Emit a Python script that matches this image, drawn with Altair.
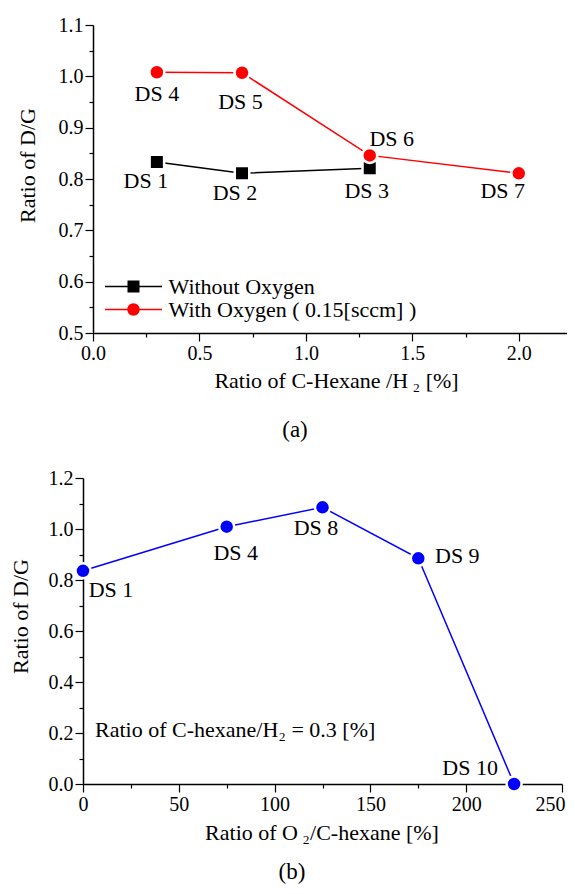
import altair as alt
import pandas as pd

# ---------------- data ----------------
# Panel (a)
series_names = ["Without Oxygen", "With Oxygen ( 0.15[sccm] )"]
series_colors = ["#000000", "#ff0000"]
a_x_without = [0.3, 0.7, 1.3]
a_y_without = [0.833, 0.811, 0.821]
a_lbl_without = ["DS 1", "DS 2", "DS 3"]
a_x_with = [0.3, 0.7, 1.3, 2.0]
a_y_with = [1.008, 1.007, 0.846, 0.811]
a_lbl_with = ["DS 4", "DS 5", "DS 6", "DS 7"]

# Panel (b)
b_x = [0, 75, 125, 175, 225]
b_y = [0.836, 1.009, 1.085, 0.885, 0.0]
b_lbl = ["DS 1", "DS 4", "DS 8", "DS 9", "DS 10"]

# tick values
a_xticks = [0, 0.25, 0.5, 0.75, 1.0, 1.25, 1.5, 1.75, 2.0, 2.25]
a_yticks = [0.5, 0.55, 0.6, 0.65, 0.7, 0.75, 0.8, 0.85, 0.9, 0.95, 1.0, 1.05, 1.1]
b_xticks = [0, 25, 50, 75, 100, 125, 150, 175, 200, 225, 250]
b_yticks = [0.0, 0.1, 0.2, 0.3, 0.4, 0.5, 0.6, 0.7, 0.8, 0.9, 1.0, 1.1, 1.2]

# texts
a_xtitle = "Ratio of C-Hexane /H\u2009\u2082 [%]"
b_xtitle = "Ratio of  O\u2009\u2082/C-hexane [%]"
y_title = "Ratio of  D/G"
b_note = "Ratio of C-hexane/H\u2082 = 0.3 [%]"

# label placement (pixel offsets of each data label from its point)
offsets_a = {"DS 1": (-11, 19), "DS 2": (-7, 20), "DS 3": (-3, 23), "DS 4": (0, 22),
             "DS 5": (-1.5, 29), "DS 6": (22, -16), "DS 7": (-16, 18)}
offsets_b = {"DS 1": (28, 19), "DS 4": (9, 26), "DS 8": (-6.5, 21), "DS 9": (39, -2),
             "DS 10": (-44, -16)}

FONT = "Liberation Serif"

# ---------------- layout (one canvas, two panels) ----------------
W, H = 484, 856                   # drawing group (page is 575 wide incl. 8px margins)
A_X0, A_X1, A_TOP, A_BOT = 10, 489, 0, 308
B_X0, B_X1, B_TOP, B_BOT = 0, 479, 453, 759

df_a = pd.DataFrame({
    "x": a_x_without + a_x_with,
    "y": a_y_without + a_y_with,
    "series": [series_names[0]] * len(a_x_without) + [series_names[1]] * len(a_x_with),
    "label": a_lbl_without + a_lbl_with,
})
df_b = pd.DataFrame({"x": b_x, "y": b_y, "label": b_lbl})


def minor_axis(values, mult, fmt, title, title_x, title_y, orient, angle=0, offset=0,
               last_shift=None):
    test = f"abs(datum.value*{mult} - round(datum.value*{mult})) < 0.001"
    kw = dict(
        orient=orient,
        offset=offset,
        values=values,
        labelExpr=f"({test}) ? format(datum.value, '{fmt}') : ''",
        tickSize={"condition": {"test": test, "value": 8}, "value": 4},
        labelPadding=2,
        labelOverlap=False,
        labelFlush=False,
        labelFont=FONT,
        labelFontSize=20,
        labelColor="#000",
        domainColor="#000",
        domainWidth=1.5,
        tickColor="#000",
        tickWidth=1.2,
        grid=False,
        title=title,
        titleFont=FONT,
        titleFontSize=22,
        titleFontWeight="normal",
        titleColor="#000",
        titleX=title_x,
        titleY=title_y,
        titleAngle=angle,
        titleAlign="center",
        titleBaseline="middle",
    )
    if last_shift is not None:
        kw["labelOffset"] = {"condition": {"test": f"datum.value == {values[-1]}",
                                           "value": last_shift}, "value": 0}
    return alt.Axis(**kw)


def caption(txt, x, y):
    return alt.Chart(pd.DataFrame({"t": [txt]})).mark_text(
        font=FONT, fontSize=23, color="#000", align="center", baseline="middle"
    ).encode(x=alt.value(x), y=alt.value(y), text="t:N")


# ---------------- panel (a) ----------------
xa = alt.X("x:Q", scale=alt.Scale(domain=[0, 2.25], range=[A_X0, A_X1], nice=False, zero=False),
           axis=minor_axis(a_xticks, 2, ".1f", a_xtitle, 253, 47, "bottom", offset=A_BOT - H))
ya = alt.Y("y:Q", scale=alt.Scale(domain=[0.5, 1.1], range=[A_BOT, A_TOP], nice=False, zero=False),
           axis=minor_axis(a_yticks, 10, ".1f", y_title, -66, 140, "left", angle=-90, offset=-A_X0))

sq_path = "M-2.478,-0.065H2.478V0.065H-2.478Z M-0.522,-0.522H0.522V0.522H-0.522Z"
ci_path = ("M-2.478,-0.065H2.478V0.065H-2.478Z "
           "M0.54,0A0.54,0.54,0,1,1,-0.54,0A0.54,0.54,0,1,1,0.54,0Z")

leg = alt.Legend(title=None, orient="none", legendX=39, legendY=250, padding=0,
                 symbolSize=529, symbolStrokeWidth=0, labelOffset=23.5, rowPadding=0,
                 labelLimit=400, labelFont=FONT, labelFontSize=22, labelColor="#000",
                 symbolOpacity=1)
color_a = alt.Color("series:N", scale=alt.Scale(domain=series_names, range=series_colors), legend=leg)

base_a = alt.Chart(df_a).encode(x=xa, y=ya, color=color_a)
lines_a = base_a.mark_line(strokeWidth=1.5)
sq_a = base_a.transform_filter(alt.datum.series == series_names[0]).mark_square(
    size=210, opacity=1, stroke="white", strokeWidth=2.5)
ci_a = base_a.transform_filter(alt.datum.series == series_names[1]).mark_circle(
    size=225, opacity=1, stroke="white", strokeWidth=2.5)
legend_layer = base_a.transform_filter("false").mark_point(filled=True, opacity=1).encode(
    shape=alt.Shape("series:N", scale=alt.Scale(domain=series_names, range=[sq_path, ci_path]),
                    legend=leg))

texts_a = [
    alt.Chart(df_a).transform_filter(alt.datum.label == k).mark_text(
        font=FONT, fontSize=22, color="#000", align="center", baseline="middle", dx=dx, dy=dy
    ).encode(x=xa, y=ya, text="label:N")
    for k, (dx, dy) in offsets_a.items()
]

panel_a = alt.layer(lines_a, sq_a, ci_a, legend_layer, *texts_a, caption("(a)", 212, 405))

# ---------------- panel (b) ----------------
xb = alt.X("x:Q", scale=alt.Scale(domain=[0, 250], range=[B_X0, B_X1], nice=False, zero=False),
           axis=minor_axis(b_xticks, 0.02, "d", b_xtitle, 238.5, 48.5, "bottom",
                           offset=B_BOT - H, last_shift=-12))
yb = alt.Y("y:Q", scale=alt.Scale(domain=[0, 1.2], range=[B_BOT, B_TOP], nice=False, zero=False),
           axis=minor_axis(b_yticks, 5, ".1f", y_title, -63, 591, "left", angle=-90))

base_b = alt.Chart(df_b).encode(x=xb, y=yb)
lines_b = base_b.mark_line(color="#0000ff", strokeWidth=1.5)
pts_b = base_b.mark_circle(size=225, color="#0000ff", opacity=1, stroke="white", strokeWidth=2.5)
texts_b = [
    alt.Chart(df_b).transform_filter(alt.datum.label == k).mark_text(
        font=FONT, fontSize=22, color="#000", align="center", baseline="middle", dx=dx, dy=dy
    ).encode(x=xb, y=yb, text="label:N")
    for k, (dx, dy) in offsets_b.items()
]
note_b = alt.Chart(pd.DataFrame({"t": [b_note]})).mark_text(
    font=FONT, fontSize=22, color="#000", align="left", baseline="middle"
).encode(x=alt.value(12), y=alt.value(B_TOP + 252), text="t:N")

panel_b = alt.layer(lines_b, pts_b, *texts_b, note_b, caption("(b)", 209, 847))

chart = alt.layer(panel_a, panel_b).resolve_scale(
    x="independent", y="independent"
).properties(
    width=W, height=H,
    autosize=alt.AutoSizeParams(type="none"),
    padding={"left": 75, "top": 17, "right": 0, "bottom": 5},
).configure(background="white").configure_view(stroke=None)

chart.save("out.html", embed_options={"renderer": "svg", "actions": False})
